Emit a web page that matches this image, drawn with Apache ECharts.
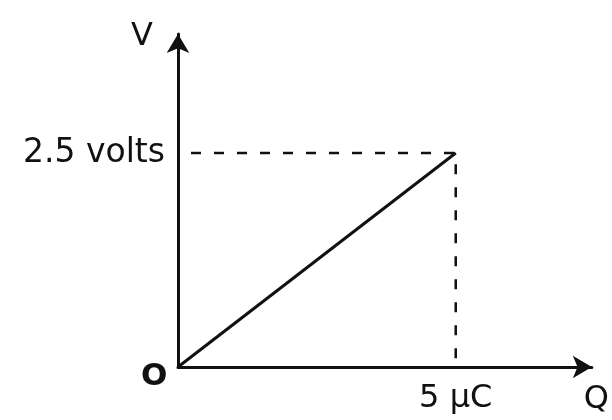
<!DOCTYPE html>
<html>
<head>
<meta charset="utf-8">
<script src="https://cdn.jsdelivr.net/npm/echarts@6/dist/echarts.min.js"></script>
<style>
  html, body { margin: 0; padding: 0; background: #fff; }
  #chart { width: 612px; height: 420px; }
</style>
</head>
<body>
<div id="chart"></div>
<script>
// charge on the plates (μC) vs potential difference (V)
const chargeQ = [0, 5];
const voltageV = [0, 2.5];
// dashed guide lines from the V axis to the end point and down to the Q axis
const guideQ = [0, 5, 5];
const guideV = [2.5, 2.5, 0];
// the only labelled ticks
const qTicks = [5];
const vTicks = [2.5];

const FONT = "'DejaVu Sans', Verdana, sans-serif";
const INK = "#111";

let myChart = echarts.init(document.getElementById("chart"), null, {renderer: "canvas"});

let option = {
    backgroundColor: "#fff",
    animation: false,
    grid: {
        left: 178,
        right: 18,
        top: 34,
        bottom: 53,
    },
    xAxis: {
        type: "value",
        min: 0,
        max: 7.45,
        name: "Q",
        nameLocation: "end",
        nameGap: -8,
        nameTextStyle: {
            fontFamily: FONT,
            fontSize: 32,
            color: INK,
            verticalAlign: "top",
            padding: [17, 0, 0, 0],
        },
        axisLine: {
            show: true,
            symbol: ["none", "arrow"],
            symbolSize: [17, 19],
            lineStyle: {color: INK, width: 3},
        },
        axisTick: {show: false},
        splitLine: {show: false},
        axisLabel: {
            customValues: qTicks,
            margin: 16,
            fontFamily: FONT,
            fontSize: 32,
            color: INK,
            formatter: (v) => v + " μC",
        },
    },
    yAxis: {
        type: "value",
        min: 0,
        max: 3.89,
        name: "V",
        nameLocation: "end",
        nameGap: -3,
        nameTextStyle: {
            fontFamily: FONT,
            fontSize: 32,
            color: INK,
            align: "right",
            verticalAlign: "middle",
            padding: [0, 25, 0, 0],
        },
        axisLine: {
            show: true,
            symbol: ["none", "arrow"],
            symbolSize: [17, 19],
            lineStyle: {color: INK, width: 3},
        },
        axisTick: {show: false},
        splitLine: {show: false},
        axisLabel: {
            customValues: vTicks,
            margin: 13,
            fontFamily: FONT,
            fontSize: 33,
            color: INK,
            formatter: (v) => v + " volts",
        },
    },
    graphic: [
        {
            type: "text",
            left: 141,
            top: 361,
            style: {
                text: "O",
                fontFamily: FONT,
                fontSize: 31,
                fontWeight: "bold",
                fill: INK,
            },
        },
    ],
    series: [
        {
            type: "line",
            data: guideQ.map((q, i) => [q, guideV[i]]),
            showSymbol: false,
            lineStyle: {
                color: INK,
                width: 2.5,
                type: [10, 13],
                dashOffset: 10,
            },
            z: 1,
        },
        {
            type: "line",
            data: chargeQ.map((q, i) => [q, voltageV[i]]),
            showSymbol: false,
            lineStyle: {color: INK, width: 3},
            z: 2,
        },
    ],
};

option && myChart.setOption(option);
</script>
</body>
</html>
